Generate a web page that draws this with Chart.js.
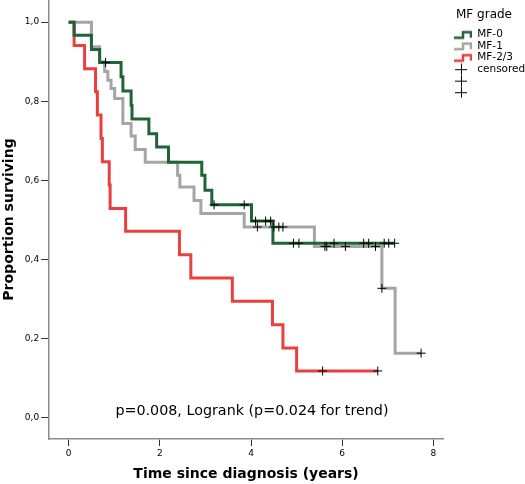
<!DOCTYPE html>
<html>
<head>
<meta charset="utf-8">
<script src="https://cdn.jsdelivr.net/npm/chart.js@4.4.1/dist/chart.umd.min.js"></script>
<style>
    body { margin: 0; background: #fff; }
    #wrap { width: 525px; height: 484px; }
</style>
</head>
<body>
<div id="wrap"><canvas id="km-chart"></canvas></div>
<script>
const groupNames = ['MF-0', 'MF-1', 'MF-2/3'];
const xTicks = [0, 2, 4, 6, 8];
const yTicks = [0, 0.2, 0.4, 0.6, 0.8, 1.0];

// MF-0 (green)
const mf0Time = [0, 0.12, 0.50, 0.68, 1.15, 1.19, 1.37, 1.39, 1.76, 1.93, 2.19, 2.92, 2.99, 3.14, 4.01, 4.48, 7.15];
const mf0Surv = [1, 0.967, 0.931, 0.898, 0.862, 0.826, 0.790, 0.755, 0.718, 0.684, 0.646, 0.613, 0.575, 0.538, 0.497, 0.441, 0.441];
const mf0Censored = [0.81, 3.19, 3.85, 4.10, 4.32, 4.43, 4.93, 5.05, 5.82, 6.47, 6.58, 6.92, 7.02, 7.15];

// MF-1 (grey)
const mf1Time = [0, 0.50, 0.68, 0.79, 0.86, 0.93, 1.01, 1.19, 1.37, 1.46, 1.68, 2.39, 2.44, 2.75, 2.90, 3.85, 5.39, 6.87, 7.16, 7.73];
const mf1Surv = [1, 0.938, 0.900, 0.875, 0.853, 0.832, 0.807, 0.744, 0.712, 0.678, 0.646, 0.613, 0.583, 0.549, 0.516, 0.482, 0.433, 0.327, 0.163, 0.163];
const mf1Censored = [4.14, 4.50, 4.61, 4.70, 5.62, 5.66, 6.07, 6.73, 6.87, 7.73];

// MF-2/3 (red)
const mf23Time = [0, 0.12, 0.35, 0.59, 0.63, 0.71, 0.74, 0.89, 0.91, 1.25, 2.43, 2.68, 3.59, 4.47, 4.70, 5.00, 6.78];
const mf23Surv = [1, 0.941, 0.882, 0.824, 0.765, 0.706, 0.647, 0.588, 0.529, 0.471, 0.412, 0.353, 0.294, 0.235, 0.176, 0.118, 0.118];
const mf23Censored = [5.57, 6.78];

const noteText = 'p=0.008, Logrank (p=0.024 for trend)';

const colours = ['#1e6436', '#a5a5a5', '#e8403f'];
const font = 'DejaVu Sans';
const iconWidth = 28;

function stepAt(times, surv, t) {
    let v = surv[0];
    for (let i = 0; i < times.length; i++) {
        if (times[i] <= t) v = surv[i];
    }
    return v;
}

// little step-shaped legend icon, drawn in the right part of the box
function stepIcon(colour) {
    const c = document.createElement('canvas');
    c.width = iconWidth;
    c.height = 10;
    const g = c.getContext('2d');
    g.strokeStyle = colour;
    g.lineWidth = 2.5;
    g.beginPath();
    g.moveTo(10, 8);
    g.lineTo(19, 8);
    g.lineTo(19, 2.5);
    g.lineTo(27, 2.5);
    g.lineTo(27, 8);
    g.stroke();
    return c;
}

function crossIcon() {
    const c = document.createElement('canvas');
    c.width = iconWidth;
    c.height = 12;
    const g = c.getContext('2d');
    g.strokeStyle = '#000';
    g.lineWidth = 1;
    g.beginPath();
    g.moveTo(11, 6.5);
    g.lineTo(23, 6.5);
    g.moveTo(17.5, 0.5);
    g.lineTo(17.5, 11.5);
    g.stroke();
    return c;
}

function curve(label, times, surv, colour) {
    return {
        label: label,
        data: times.map((t, i) => ({ x: t, y: surv[i] })),
        stepped: true,
        borderColor: colour,
        borderWidth: 3,
        pointRadius: 0,
        fill: false,
        order: 1
    };
}

function censors(label, cens, times, surv) {
    return {
        type: 'scatter',
        label: label,
        data: cens.map(t => ({ x: t, y: stepAt(times, surv, t) })),
        pointStyle: 'cross',
        pointRadius: 4.5,
        borderColor: '#000',
        backgroundColor: '#000',
        borderWidth: 1,
        order: 0
    };
}

const notePlugin = {
    id: 'note',
    afterDatasetsDraw(chart) {
        const ctx = chart.ctx;
        ctx.save();
        ctx.font = '14.3px "' + font + '"';
        ctx.fillStyle = '#000';
        ctx.textAlign = 'center';
        ctx.textBaseline = 'middle';
        ctx.fillText(noteText, chart.scales.x.getPixelForValue(4.02), chart.scales.y.getPixelForValue(0.017));
        ctx.restore();
    }
};

new Chart(document.getElementById('km-chart'), {
    type: 'line',
    data: {
        datasets: [
            curve(groupNames[0], mf0Time, mf0Surv, colours[0]),
            curve(groupNames[1], mf1Time, mf1Surv, colours[1]),
            curve(groupNames[2], mf23Time, mf23Surv, colours[2]),
            censors('censored', mf0Censored, mf0Time, mf0Surv),
            censors('', mf1Censored, mf1Time, mf1Surv),
            censors('', mf23Censored, mf23Time, mf23Surv)
        ]
    },
    options: {
        responsive: true,
        maintainAspectRatio: false,
        animation: false,
        events: [],
        layout: { autoPadding: false, padding: { left: 0, top: 0, right: 0, bottom: 1.4 } },
        scales: {
            x: {
                type: 'linear',
                min: -0.428,
                max: 8.21,
                afterBuildTicks: scale => { scale.ticks = xTicks.map(v => ({ value: v })); },
                afterFit: scale => { scale.paddingRight = 0; scale.paddingLeft = 0; },
                ticks: { font: { family: font, size: 9 }, color: '#000', padding: 2 },
                grid: { drawOnChartArea: false, tickLength: 7, tickColor: '#333', tickWidth: 1 },
                border: { color: '#8c8c8c', width: 1.5 },
                title: {
                    display: true,
                    text: 'Time since diagnosis (years)',
                    font: { family: font, size: 14, weight: 'bold' },
                    color: '#000',
                    padding: { top: 5, bottom: 0 }
                }
            },
            y: {
                type: 'linear',
                min: -0.054,
                max: 1.056,
                afterBuildTicks: scale => { scale.ticks = yTicks.map(v => ({ value: v })); },
                afterFit: scale => { scale.paddingTop = 0; scale.paddingBottom = 0; },
                ticks: {
                    font: { family: font, size: 9 },
                    color: '#000',
                    padding: 2,
                    callback: v => v.toFixed(1).replace('.', ',')
                },
                grid: { drawOnChartArea: false, tickLength: 8, tickColor: '#333', tickWidth: 1 },
                border: { color: '#8c8c8c', width: 1.5 },
                title: {
                    display: true,
                    text: 'Proportion surviving',
                    font: { family: font, size: 14, weight: 'bold' },
                    color: '#000',
                    padding: { top: 1, bottom: 5 }
                }
            }
        },
        plugins: {
            tooltip: { enabled: false },
            legend: {
                position: 'right',
                align: 'start',
                maxWidth: 82,
                title: {
                    display: true,
                    text: 'MF grade',
                    color: '#000',
                    font: { family: font, size: 12 },
                    padding: { top: 9, bottom: 5 }
                },
                labels: {
                    usePointStyle: true,
                    pointStyleWidth: iconWidth,
                    boxHeight: 10,
                    padding: 1,
                    color: '#000',
                    font: { family: font, size: 10.5 },
                    sort: (a, b) => a.datasetIndex - b.datasetIndex,
                    generateLabels: chart => Chart.defaults.plugins.legend.labels.generateLabels(chart)
                        .map(item => {
                            item.pointStyle = item.datasetIndex < 3 ? stepIcon(colours[item.datasetIndex]) : crossIcon();
                            return item;
                        })
                }
            }
        }
    },
    plugins: [notePlugin]
});
</script>
</body>
</html>
